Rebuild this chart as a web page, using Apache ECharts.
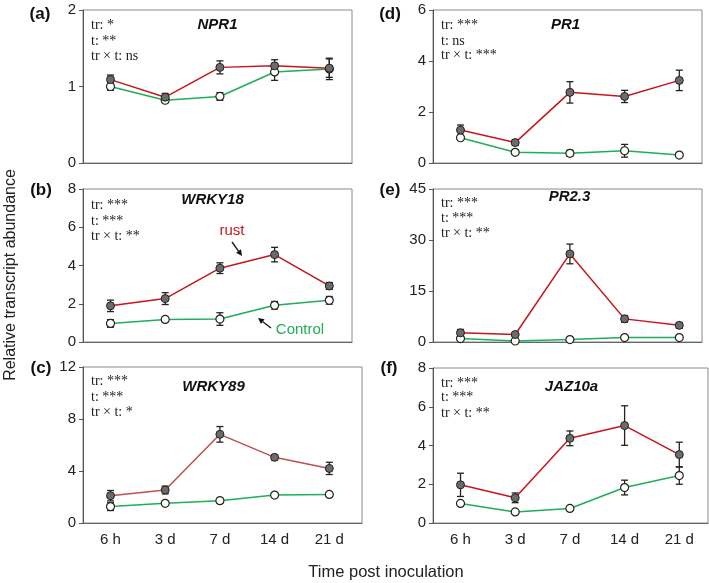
<!DOCTYPE html>
<html><head><meta charset="utf-8">
<script src="https://cdn.jsdelivr.net/npm/echarts@6/dist/echarts.min.js"></script>
<style>html,body{margin:0;padding:0;background:#fff}#c{width:709px;height:583px}</style>
</head><body><div id="c"></div>
<script>
// ---------- data ----------
const categories = ['6 h', '3 d', '7 d', '14 d', '21 d'];
const xIndex = [0, 1, 2, 3, 4];

const npr1Rust = [1.09, 0.86, 1.25, 1.27, 1.24];
const npr1RustErr = [0.06, 0.05, 0.085, 0.08, 0.12];
const npr1Ctrl = [1.00, 0.82, 0.87, 1.19, 1.23];
const npr1CtrlErr = [0.05, 0.03, 0.05, 0.11, 0.14];
const npr1Stats = ['tr: *', 't: **', 'tr \u00d7 t: ns'];

const wrky18Rust = [1.89, 2.27, 3.86, 4.57, 2.93];
const wrky18RustErr = [0.3, 0.31, 0.28, 0.38, 0.18];
const wrky18Ctrl = [0.97, 1.18, 1.2, 1.92, 2.18];
const wrky18CtrlErr = [0.2, 0.12, 0.33, 0.2, 0.2];
const wrky18Stats = ['tr: ***', 't: ***', 'tr \u00d7 t: **'];

const wrky89Rust = [2.1, 2.54, 6.82, 5.05, 4.2];
const wrky89RustErr = [0.4, 0.3, 0.6, 0.2, 0.47];
const wrky89Ctrl = [1.26, 1.51, 1.72, 2.15, 2.2];
const wrky89CtrlErr = [0.3, 0.1, 0.2, 0.15, 0.15];
const wrky89Stats = ['tr: ***', 't: ***', 'tr \u00d7 t: *'];

const pr1Rust = [1.29, 0.80, 2.77, 2.61, 3.24];
const pr1RustErr = [0.2, 0.1, 0.42, 0.24, 0.4];
const pr1Ctrl = [0.99, 0.42, 0.38, 0.48, 0.31];
const pr1CtrlErr = [0.08, 0.08, 0.12, 0.25, 0.05];
const pr1Stats = ['tr: ***', 't: ns', 'tr \u00d7 t: ***'];

const pr23Rust = [2.7, 2.2, 25.9, 6.8, 4.9];
const pr23RustErr = [1.0, 0.5, 2.9, 1.0, 0.8];
const pr23Ctrl = [1.0, 0.3, 0.7, 1.3, 1.3];
const pr23CtrlErr = [0.2, 0.1, 0.2, 0.3, 0.2];
const pr23Stats = ['tr: ***', 't: ***', 'tr \u00d7 t: **'];

const jaz10aRust = [1.97, 1.3, 4.37, 5.03, 3.53];
const jaz10aRustErr = [0.6, 0.25, 0.38, 1.02, 0.64];
const jaz10aCtrl = [1.01, 0.57, 0.75, 1.83, 2.45];
const jaz10aCtrlErr = [0.06, 0.05, 0.05, 0.38, 0.45];
const jaz10aStats = ['tr: ***', 't: ***', 'tr \u00d7 t: **'];

const yMaxes = [2, 8, 12, 6, 45, 8];
const yIntervals = [1, 2, 4, 2, 15, 2];
const panelLetters = ['(a)', '(b)', '(c)', '(d)', '(e)', '(f)'];
const geneNames = ['NPR1', 'WRKY18', 'WRKY89', 'PR1', 'PR2.3', 'JAZ10a'];
const yAxisTitle = 'Relative transcript abundance';
const xAxisTitle = 'Time post inoculation';
const rustLabel = 'rust';
const controlLabel = 'Control';

// ---------- layout ----------
const panels = [
  {rust: npr1Rust, rustErr: npr1RustErr, ctrl: npr1Ctrl, ctrlErr: npr1CtrlErr, stats: npr1Stats},
  {rust: wrky18Rust, rustErr: wrky18RustErr, ctrl: wrky18Ctrl, ctrlErr: wrky18CtrlErr, stats: wrky18Stats},
  {rust: wrky89Rust, rustErr: wrky89RustErr, ctrl: wrky89Ctrl, ctrlErr: wrky89CtrlErr, stats: wrky89Stats},
  {rust: pr1Rust, rustErr: pr1RustErr, ctrl: pr1Ctrl, ctrlErr: pr1CtrlErr, stats: pr1Stats},
  {rust: pr23Rust, rustErr: pr23RustErr, ctrl: pr23Ctrl, ctrlErr: pr23CtrlErr, stats: pr23Stats},
  {rust: jaz10aRust, rustErr: jaz10aRustErr, ctrl: jaz10aCtrl, ctrlErr: jaz10aCtrlErr, stats: jaz10aStats}
];
const boxes = [
  {left: 83, top: 10, width: 269, height: 153},
  {left: 83, top: 189, width: 269, height: 153},
  {left: 83, top: 367, width: 279, height: 156},
  {left: 433, top: 10, width: 269, height: 153},
  {left: 433, top: 189, width: 269, height: 153},
  {left: 433, top: 368, width: 275, height: 155}
];
const firstOffset = 27.5, step = 54.7;
const rustColors = ['#c8141c', '#c8141c', '#c0504d', '#c8141c', '#c8141c', '#c8141c'];
const ctrlColor = '#1fae55';
const letterPos = [[40, 14], [41, 190], [41, 368], [390, 14], [390, 190], [389, 368]];
const titleY = [25, 200, 387, 25, 197, 387];
const titleXOff = [0, -5, -4, -2, 2, 4];
const statsY = [[25, 41, 56], [205, 221, 236], [381, 397, 412], [25, 41, 55], [203, 218, 233], [383, 397, 413]];

const grids = [], xAxes = [], yAxes = [], series = [];
const sans = '"Liberation Sans", Arial, sans-serif';
const serif = '"Liberation Serif", "Times New Roman", serif';

function errSeries(i, vals, errs) {
  return {
    type: 'custom', xAxisIndex: i, yAxisIndex: i, z: 3, silent: true,
    data: xIndex.map((x, k) => [x, vals[k], errs[k]]),
    encode: {x: 0, y: 1},
    renderItem: function (params, api) {
      const x = api.value(0), y = api.value(1), e = api.value(2);
      const t = api.coord([x, y + e]), b = api.coord([x, y - e]);
      const w = 3.5, st = {stroke: '#222', lineWidth: 1.3};
      return {type: 'group', children: [
        {type: 'line', shape: {x1: t[0], y1: t[1], x2: b[0], y2: b[1]}, style: st},
        {type: 'line', shape: {x1: t[0] - w, y1: t[1], x2: t[0] + w, y2: t[1]}, style: st},
        {type: 'line', shape: {x1: b[0] - w, y1: b[1], x2: b[0] + w, y2: b[1]}, style: st}
      ]};
    }
  };
}

const graphics = [];
panels.forEach((p, i) => {
  const bx = boxes[i];
  const bottomRow = (i === 2 || i === 5);
  grids.push({left: bx.left, top: bx.top, width: bx.width, height: bx.height, show: true,
    borderColor: '#8a8a8a', borderWidth: 1, backgroundColor: 'transparent'});
  const xmin = -firstOffset / step;
  const xmax = 4 + (bx.width - firstOffset - 4 * step) / step;
  xAxes.push({gridIndex: i, type: 'value', min: xmin, max: xmax,
    axisLine: {show: true, onZero: false, lineStyle: {color: '#666', width: 1}},
    axisTick: {show: false}, splitLine: {show: false},
    axisLabel: {show: bottomRow, customValues: xIndex, formatter: v => categories[Math.round(v)] || '',
      fontSize: 15, color: '#222', margin: 9, fontFamily: sans}});
  yAxes.push({gridIndex: i, type: 'value', min: 0, max: yMaxes[i], interval: yIntervals[i],
    axisLine: {show: true, onZero: false, lineStyle: {color: '#555', width: 1}},
    axisTick: {show: true, inside: false, length: 4, lineStyle: {color: '#555'}},
    splitLine: {show: false},
    axisLabel: {fontSize: 15, color: '#222', margin: 7, fontFamily: sans}});
  series.push(errSeries(i, p.ctrl, p.ctrlErr));
  series.push(errSeries(i, p.rust, p.rustErr));
  series.push({type: 'line', xAxisIndex: i, yAxisIndex: i, z: 4,
    data: xIndex.map((x, k) => [x, p.ctrl[k]]),
    symbol: 'circle', symbolSize: 8,
    lineStyle: {color: ctrlColor, width: 1.5},
    itemStyle: {color: '#fff', borderColor: '#222', borderWidth: 1.2}});
  series.push({type: 'line', xAxisIndex: i, yAxisIndex: i, z: 5,
    data: xIndex.map((x, k) => [x, p.rust[k]]),
    symbol: 'circle', symbolSize: 8,
    lineStyle: {color: rustColors[i], width: 1.5},
    itemStyle: {color: '#6b6b6b', borderColor: '#222', borderWidth: 1}});

  graphics.push({type: 'text', x: letterPos[i][0], y: letterPos[i][1],
    style: {text: panelLetters[i], font: 'bold 17px ' + sans, fill: '#111', textAlign: 'center', textVerticalAlign: 'middle'}});
  graphics.push({type: 'text', x: bx.left + 269 / 2 + titleXOff[i], y: titleY[i],
    style: {text: geneNames[i], font: 'italic bold 15px ' + sans, fill: '#111', textAlign: 'center', textVerticalAlign: 'middle'}});
  p.stats.forEach((s, k) => {
    graphics.push({type: 'text', x: bx.left + 8, y: statsY[i][k],
      style: {text: s, font: '14px ' + serif, fill: '#222', textAlign: 'left', textVerticalAlign: 'middle'}});
  });
});

graphics.push({type: 'text', x: 11, y: 275, rotation: Math.PI / 2,
  style: {text: yAxisTitle, font: '16px ' + sans, fill: '#222', textAlign: 'center', textVerticalAlign: 'middle'}});
graphics.push({type: 'text', x: 386, y: 572,
  style: {text: xAxisTitle, font: '16.5px ' + sans, fill: '#222', textAlign: 'center', textVerticalAlign: 'middle'}});
graphics.push({type: 'text', x: 232, y: 231,
  style: {text: rustLabel, font: '15px ' + sans, fill: '#c8141c', textAlign: 'center', textVerticalAlign: 'middle'}});
graphics.push({type: 'text', x: 300, y: 330,
  style: {text: controlLabel, font: '15px ' + sans, fill: ctrlColor, textAlign: 'center', textVerticalAlign: 'middle'}});

function arrow(x1, y1, x2, y2) {
  const a = Math.atan2(y2 - y1, x2 - x1), L = 6, W = 3;
  const bxp = x2 - L * Math.cos(a), byp = y2 - L * Math.sin(a);
  graphics.push({type: 'line', shape: {x1: x1, y1: y1, x2: bxp, y2: byp}, style: {stroke: '#111', lineWidth: 1.3}});
  graphics.push({type: 'polygon', shape: {points: [[x2, y2],
    [bxp + W * Math.sin(a), byp - W * Math.cos(a)], [bxp - W * Math.sin(a), byp + W * Math.cos(a)]]},
    style: {fill: '#111'}});
}
arrow(232, 242, 242, 256);
arrow(271, 328, 258, 318);

const chart = echarts.init(document.getElementById('c'), null, {renderer: 'canvas'});
chart.setOption({
  animation: false,
  backgroundColor: '#fff',
  grid: grids, xAxis: xAxes, yAxis: yAxes, series: series,
  graphic: {elements: graphics}
});
</script>
</body></html>
